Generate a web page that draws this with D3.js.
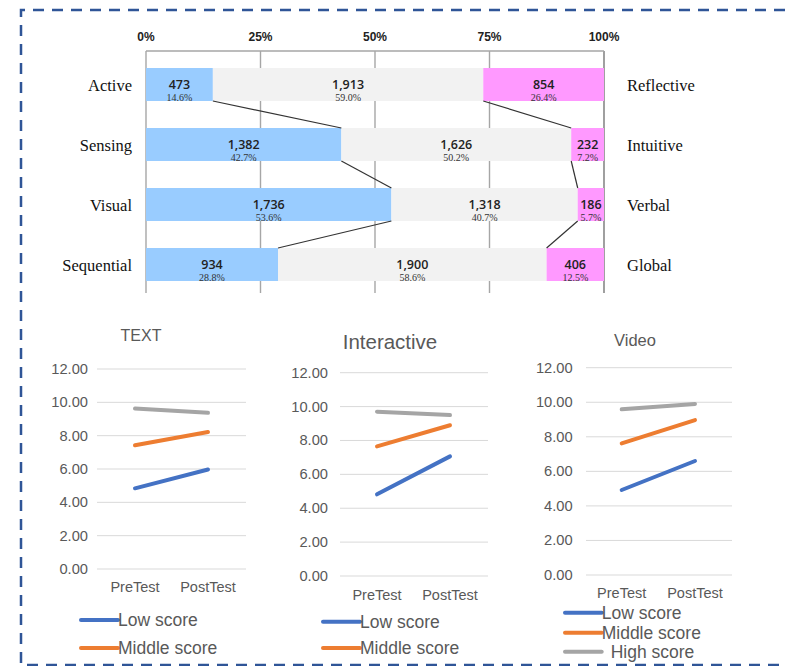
<!DOCTYPE html>
<html><head><meta charset="utf-8">
<script src="https://cdn.jsdelivr.net/npm/d3@7"></script>
<style>html,body{margin:0;padding:0;background:#fff;}svg{display:block;}</style>
</head><body>
<svg id="c" width="785" height="666"></svg>
<script>
// ---------- DATA ----------
const leftLabels = ["Active", "Sensing", "Visual", "Sequential"];
const rightLabels = ["Reflective", "Intuitive", "Verbal", "Global"];
const leftCounts = [473, 1382, 1736, 934];
const midCounts = [1913, 1626, 1318, 1900];
const rightCounts = [854, 232, 186, 406];
const leftPct = ["14.6%", "42.7%", "53.6%", "28.8%"];
const midPct = ["59.0%", "50.2%", "40.7%", "58.6%"];
const rightPct = ["26.4%", "7.2%", "5.7%", "12.5%"];
const pctTicks = [0, 0.25, 0.5, 0.75, 1];

const categories = ["PreTest", "PostTest"];
const seriesNames = ["Low score", "Middle score", "High score"];
const yTicks = [0, 2, 4, 6, 8, 10, 12];
const textLow = [4.84, 5.97], textMid = [7.42, 8.22], textHigh = [9.63, 9.37];
const interLow = [4.82, 7.06], interMid = [7.65, 8.90], interHigh = [9.70, 9.50];
const videoLow = [4.92, 6.60], videoMid = [7.62, 8.97], videoHigh = [9.59, 9.90];
const chartTitles = ["TEXT", "Interactive", "Video"];

// ---------- DRAW ----------
const svg = d3.select("#c");

// dashed frame
svg.append("path")
  .attr("d", "M785,10 L21,10 L21,665 L785,665")
  .attr("fill", "none").attr("stroke", "#2f5597").attr("stroke-width", 2.5)
  .attr("stroke-dasharray", "11 8");

// ---- top stacked bar ----
const x = d3.scaleLinear().domain([0, 1]).range([146, 604]);
const yRow = d3.scalePoint().domain(leftLabels).range([84.5, 264.5]);
const bh = 33;
const topG = svg.append("g");

// gridlines
topG.selectAll("line.grid").data(pctTicks).join("line")
  .attr("x1", d => x(d)).attr("x2", d => x(d))
  .attr("y1", 51).attr("y2", 293)
  .attr("stroke", d => d === 1 ? "#777" : "#a6a6a6").attr("stroke-width", 1.4);
topG.append("line").attr("x1", x(0)).attr("x2", x(1)).attr("y1", 51).attr("y2", 51)
  .attr("stroke", "#a6a6a6").attr("stroke-width", 1.6);
topG.selectAll("text.pt").data(pctTicks).join("text")
  .attr("x", d => x(d)).attr("y", 41)
  .attr("text-anchor", "middle")
  .attr("font-family", "Liberation Sans, Arial, sans-serif").attr("font-weight", "bold")
  .attr("font-size", 12).attr("fill", "#222")
  .text(d => Math.round(d * 100) + "%");

const rows = leftLabels.map((l, i) => {
  const tot = leftCounts[i] + midCounts[i] + rightCounts[i];
  const a = leftCounts[i] / tot, b = (leftCounts[i] + midCounts[i]) / tot;
  return { l, r: rightLabels[i], i, a, b, tot };
});

// segments
const segs = [];
rows.forEach(r => {
  segs.push({ row: r, x0: 0, x1: r.a, c: "#99ccff", n: leftCounts[r.i], p: leftPct[r.i] });
  segs.push({ row: r, x0: r.a, x1: r.b, c: "#f2f2f2", n: midCounts[r.i], p: midPct[r.i] });
  segs.push({ row: r, x0: r.b, x1: 1, c: "#ff99ff", n: rightCounts[r.i], p: rightPct[r.i] });
});
topG.selectAll("rect.seg").data(segs).join("rect")
  .attr("x", d => x(d.x0)).attr("width", d => x(d.x1) - x(d.x0))
  .attr("y", d => yRow(d.row.l) - bh / 2).attr("height", bh)
  .attr("fill", d => d.c);
topG.selectAll("text.n").data(segs).join("text")
  .attr("x", d => (x(d.x0) + x(d.x1)) / 2).attr("y", d => yRow(d.row.l) + 4)
  .attr("text-anchor", "middle")
  .attr("font-family", "Open Sans, Liberation Sans, sans-serif").attr("font-weight", 600)
  .attr("font-size", 12.5).attr("fill", "#222")
  .text(d => d3.format(",")(d.n));
topG.selectAll("text.p").data(segs).join("text")
  .attr("x", d => (x(d.x0) + x(d.x1)) / 2).attr("y", d => yRow(d.row.l) + 16)
  .attr("text-anchor", "middle")
  .attr("font-family", "Liberation Serif, Times New Roman, serif")
  .attr("font-size", 10).attr("fill", "#333")
  .text(d => d.p);

// connectors
const conn = [];
for (let k = 0; k < rows.length - 1; k++) {
  const r0 = rows[k], r1 = rows[k + 1];
  conn.push([r0.a, r0.l, r1.a, r1.l]);
  conn.push([r0.b, r0.l, r1.b, r1.l]);
}
topG.selectAll("line.cn").data(conn).join("line")
  .attr("x1", d => x(d[0])).attr("y1", d => yRow(d[1]) + bh / 2)
  .attr("x2", d => x(d[2])).attr("y2", d => yRow(d[3]) - bh / 2)
  .attr("stroke", "#333").attr("stroke-width", 1.2);

// row labels
topG.selectAll("text.ll").data(rows).join("text")
  .attr("x", 132).attr("y", d => yRow(d.l) + 6)
  .attr("text-anchor", "end")
  .attr("font-family", "Liberation Serif, Times New Roman, serif")
  .attr("font-size", 16.5).attr("fill", "#111").text(d => d.l);
topG.selectAll("text.rl").data(rows).join("text")
  .attr("x", 627).attr("y", d => yRow(d.l) + 6)
  .attr("text-anchor", "start")
  .attr("font-family", "Liberation Serif, Times New Roman, serif")
  .attr("font-size", 16.5).attr("fill", "#111").text(d => d.r);

// ---- line charts ----
const colors = ["#4472c4", "#ed7d31", "#a5a5a5"];
const panels = [
  { title: chartTitles[0], data: [textLow, textMid, textHigh], y0: 569, y1: 369, px: [135, 208], gx: [97, 246], tickX: 88,
    titleX: 141, titleY: 341, titleSize: 16, catY: 592, legY: [620, 648], legX: [81, 118], legN: 2 },
  { title: chartTitles[1], data: [interLow, interMid, interHigh], y0: 576, y1: 372.7, px: [377, 450], gx: [340, 488], tickX: 328,
    titleX: 390, titleY: 349, titleSize: 20.5, catY: 600, legY: [621.7, 648], legX: [323, 360], legN: 2 },
  { title: chartTitles[2], data: [videoLow, videoMid, videoHigh], y0: 575, y1: 367.7, px: [621.7, 695], gx: [586, 732], tickX: 572.7,
    titleX: 635, titleY: 346, titleSize: 16.5, catY: 598, legY: [612.7, 632.7, 651.7], legX: [565, 601.7], legN: 3 }
];
const sans = "Liberation Sans, Arial, sans-serif";
panels.forEach(p => {
  const g = svg.append("g");
  const y = d3.scaleLinear().domain([0, 12]).range([p.y0, p.y1]);
  const xp = d3.scalePoint().domain(categories).range(p.px);
  g.selectAll("line.g").data(yTicks).join("line")
    .attr("x1", p.gx[0]).attr("x2", p.gx[1]).attr("y1", d => y(d)).attr("y2", d => y(d))
    .attr("stroke", "#d9d9d9").attr("stroke-width", 1);
  g.selectAll("text.t").data(yTicks).join("text")
    .attr("x", p.tickX).attr("y", d => y(d) + 5)
    .attr("text-anchor", "end").attr("font-family", sans).attr("font-size", 14.7)
    .attr("fill", "#595959").text(d => d3.format(".2f")(d));
  g.selectAll("text.c").data(categories).join("text")
    .attr("x", d => xp(d)).attr("y", p.catY)
    .attr("text-anchor", "middle").attr("font-family", sans).attr("font-size", 14.5)
    .attr("fill", "#595959").text(d => d);
  g.append("text").attr("x", p.titleX).attr("y", p.titleY)
    .attr("text-anchor", "middle").attr("font-family", sans).attr("font-size", p.titleSize)
    .attr("fill", "#595959").text(p.title);
  const line = d3.line().x((d, i) => xp(categories[i])).y(d => y(d));
  g.selectAll("path.s").data(p.data).join("path")
    .attr("d", d => line(d)).attr("fill", "none")
    .attr("stroke", (d, i) => colors[i]).attr("stroke-width", 4).attr("stroke-linecap", "round");
  const leg = seriesNames.slice(0, p.legN);
  g.selectAll("line.l").data(leg).join("line")
    .attr("x1", p.legX[0]).attr("x2", p.legX[1])
    .attr("y1", (d, i) => p.legY[i]).attr("y2", (d, i) => p.legY[i])
    .attr("stroke", (d, i) => colors[i]).attr("stroke-width", 4).attr("stroke-linecap", "round");
  g.selectAll("text.l").data(leg).join("text")
    .attr("x", (d, i) => p.legX[1] + (i === 2 ? 9 : 0)).attr("y", (d, i) => p.legY[i] + 6)
    .attr("font-family", sans).attr("font-size", 17.5).attr("fill", "#595959").text(d => d);
});
</script>
</body></html>
